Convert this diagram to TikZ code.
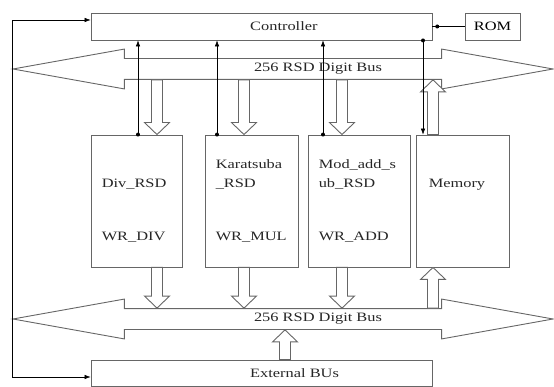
\documentclass[tikz,border=0pt]{standalone}
\usepackage{fontspec}
\setmainfont{Liberation Serif}[FakeStretch=1.28]
\usetikzlibrary{arrows.meta,positioning,calc,shapes.arrows}

% hollow block arrow from #1 to #2
\newcommand\fatarrow[2]{%
  \coordinate (fa) at ($(#2)!12pt!(#1)$);
  \draw[fatline] ($(#1)!5.5pt!90:(#2)$) -- ($(fa)!5.5pt!90:(#2)$)
    -- ($(fa)!12.5pt!90:(#2)$) -- (#2) -- ($(fa)!12.5pt!-90:(#2)$)
    -- ($(fa)!5.5pt!-90:(#2)$) -- ($(#1)!5.5pt!-90:(#2)$) -- cycle;}

\begin{document}
\begin{tikzpicture}[x=1pt,y=-1pt,
  font=\fontsize{12.8}{19}\selectfont,
  box/.style={draw=black!60,line width=0.9pt,inner sep=0pt},
  busarrow/.style={double arrow,draw=black!60,line width=0.9pt,
    minimum height=540pt,minimum width=39pt,inner sep=0pt,inner ysep=10pt,
    double arrow head extend=9.5pt,double arrow tip angle=20.3},
  fatline/.style={draw=black!60,line width=0.9pt,fill=white},
  txt/.style={inner sep=0pt,text=black!85},
  modtxt/.style={txt,align=left,anchor=base west},
  wire/.style={draw,line width=0.5pt},
  dot/.style={circle,fill,inner sep=0pt,minimum size=4pt},
  >={Latex[length=6pt,width=4.5pt]}
]
\useasboundingbox (0,0) rectangle (554,387);
% buses
\node[busarrow] (topbus) at (283,69) {};
\node[busarrow] (botbus) at (283,319) {};

% boxes
\node[box,minimum width=341pt,minimum height=27pt] (ctrl) at (261.5,26.5) {};
\node[txt,anchor=west] (ctrllbl) at (250,26.5) {Controller};
\node[box,minimum width=55pt,minimum height=27pt] (rom) at (492.5,26.5) {ROM};
\node[box,minimum width=341pt,minimum height=26pt] (ext) at (261.5,373) {};
\node[txt,anchor=west] (extlbl) at (250,373) {External BUs};
\node[box,minimum width=91pt,minimum height=132pt] (div) at (136.5,201) {};
\node[box,minimum width=93pt,minimum height=132pt] (kar) at (251.5,201) {};
\node[box,minimum width=102pt,minimum height=132pt] (mod) at (359,201) {};
\node[box,minimum width=93pt,minimum height=132pt] (mem) at (462.5,201) {};

% module texts
\node[modtxt] (divname) at ([xshift=11pt,yshift=-53pt]div.north west) {Div\_RSD};
\node[modtxt] (divwr) at ([xshift=11pt,yshift=-106pt]div.north west) {WR\_DIV};
\node[modtxt] (karname) at ([xshift=11pt,yshift=-53pt]kar.north west) {Karatsuba\\\_RSD};
\node[modtxt] (karwr) at ([xshift=11pt,yshift=-106pt]kar.north west) {WR\_MUL};
\node[modtxt] (modname) at ([xshift=11pt,yshift=-53pt]mod.north west) {Mod\_add\_s\\ub\_RSD};
\node[modtxt] (modwr) at ([xshift=11pt,yshift=-106pt]mod.north west) {WR\_ADD};
\node[modtxt] (memname) at ([xshift=13pt,yshift=-53pt]mem.north west) {Memory};

% block arrows
\coordinate (fdiv) at (157,0);
\coordinate (fkar) at (244,0);
\coordinate (fmod) at (342,0);
\coordinate (fmem) at (433,0);
\coordinate (fext) at (285,0);
\fatarrow{topbus.south -| fdiv}{div.north -| fdiv}
\fatarrow{topbus.south -| fkar}{kar.north -| fkar}
\fatarrow{topbus.south -| fmod}{mod.north -| fmod}
\fatarrow{mem.north -| fmem}{topbus.south -| fmem}
\fatarrow{div.south -| fdiv}{botbus.north -| fdiv}
\fatarrow{kar.south -| fkar}{botbus.north -| fkar}
\fatarrow{mod.south -| fmod}{botbus.north -| fmod}
\fatarrow{botbus.north -| fmem}{mem.south -| fmem}
\fatarrow{ext.north -| fext}{botbus.south -| fext}

\node[txt] (toplbl) at (318,69) {256 RSD Digit Bus};
\node[txt] (botlbl) at (318,319) {256 RSD Digit Bus};

% control lines
\coordinate (xdiv) at (138,0);
\coordinate (xkar) at (217,0);
\coordinate (xmod) at (323,0);
\coordinate (xmem) at (423,0);
\draw[wire,->] (div.north -| xdiv) node[dot] {} -- (ctrl.south -| xdiv);
\draw[wire,->] (kar.north -| xkar) node[dot] {} -- (ctrl.south -| xkar);
\draw[wire,->] (mod.north -| xmod) node[dot] {} -- (ctrl.south -| xmod);
\draw[wire,->] (ctrl.south -| xmem) node[dot] {} -- (mem.north -| xmem);
\draw[wire] (rom.west) -- (ctrl.east) node[dot,pos=0.85] {};
\draw[wire,<->] ([yshift=6.5pt]ctrl.west) -- ++(-78,0) |- ([yshift=-4pt]ext.west);
\end{tikzpicture}
\end{document}
